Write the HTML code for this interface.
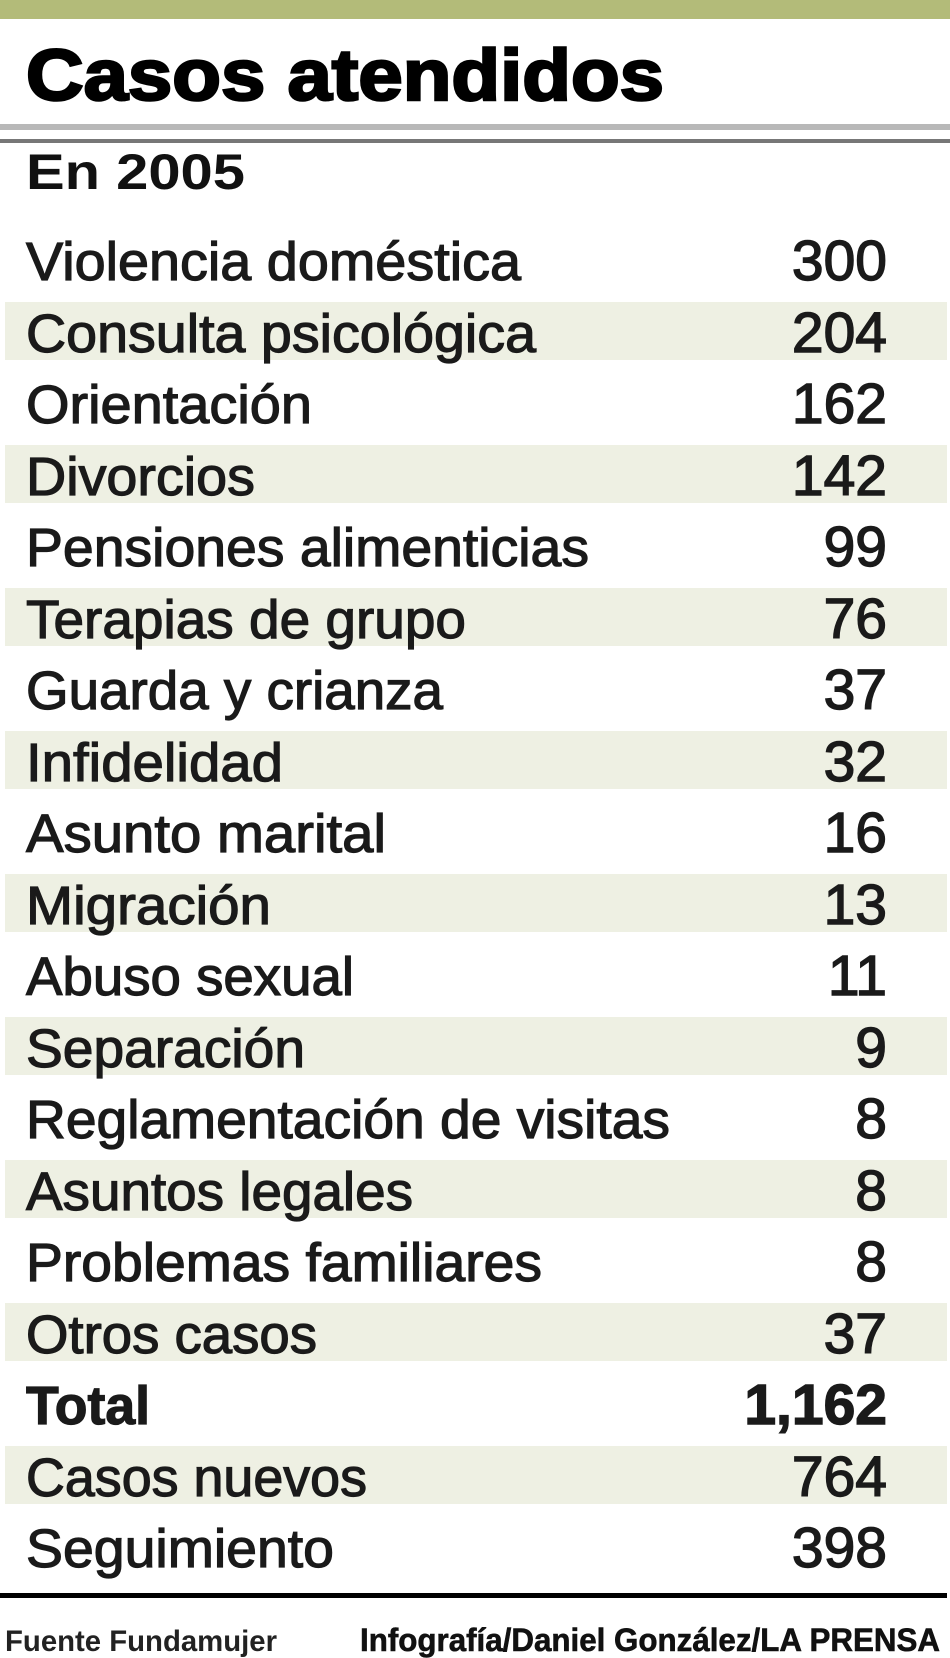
<!DOCTYPE html>
<html><head><meta charset="utf-8"><style>html,body{margin:0;padding:0;background:#fff}svg{display:block}</style></head>
<body>
<svg width="950" height="1658" viewBox="0 0 950 1658" xmlns="http://www.w3.org/2000/svg" font-family="Liberation Sans, sans-serif">
<rect width="950" height="1658" fill="#fff"/>
<rect x="0" y="0" width="950" height="19" fill="#b3bb79"/>
<text x="26" y="100" font-size="72" font-weight="bold" fill="#000" stroke="#000" stroke-width="2.5" textLength="638" lengthAdjust="spacingAndGlyphs">Casos atendidos</text>
<rect x="0" y="124" width="950" height="6" fill="#b8b8b8"/>
<rect x="0" y="139" width="950" height="4" fill="#777"/>
<text x="26" y="189" font-size="50" font-weight="bold" fill="#111" textLength="219" lengthAdjust="spacingAndGlyphs">En 2005</text>
<g fill="#eef0e3">
<rect x="5" y="302" width="942" height="58"/>
<rect x="5" y="445" width="942" height="58"/>
<rect x="5" y="588" width="942" height="58"/>
<rect x="5" y="731" width="942" height="58"/>
<rect x="5" y="874" width="942" height="58"/>
<rect x="5" y="1017" width="942" height="58"/>
<rect x="5" y="1160" width="942" height="58"/>
<rect x="5" y="1303" width="942" height="58"/>
<rect x="5" y="1446" width="942" height="58"/>
</g>
<g font-size="54" fill="#1a1a1a" stroke="#1a1a1a" stroke-width="1.2">
<text x="26" y="280" textLength="495" lengthAdjust="spacingAndGlyphs">Violencia doméstica</text>
<text x="26" y="352" textLength="510" lengthAdjust="spacingAndGlyphs">Consulta psicológica</text>
<text x="26" y="423" textLength="286" lengthAdjust="spacingAndGlyphs">Orientación</text>
<text x="26" y="495" textLength="229" lengthAdjust="spacingAndGlyphs">Divorcios</text>
<text x="26" y="566" textLength="563" lengthAdjust="spacingAndGlyphs">Pensiones alimenticias</text>
<text x="26" y="638" textLength="440" lengthAdjust="spacingAndGlyphs">Terapias de grupo</text>
<text x="26" y="709" textLength="417" lengthAdjust="spacingAndGlyphs">Guarda y crianza</text>
<text x="26" y="781" textLength="257" lengthAdjust="spacingAndGlyphs">Infidelidad</text>
<text x="26" y="852" textLength="360" lengthAdjust="spacingAndGlyphs">Asunto marital</text>
<text x="26" y="924" textLength="245" lengthAdjust="spacingAndGlyphs">Migración</text>
<text x="26" y="995" textLength="328" lengthAdjust="spacingAndGlyphs">Abuso sexual</text>
<text x="26" y="1067" textLength="279" lengthAdjust="spacingAndGlyphs">Separación</text>
<text x="26" y="1138" textLength="644" lengthAdjust="spacingAndGlyphs">Reglamentación de visitas</text>
<text x="26" y="1210" textLength="387" lengthAdjust="spacingAndGlyphs">Asuntos legales</text>
<text x="26" y="1281" textLength="516" lengthAdjust="spacingAndGlyphs">Problemas familiares</text>
<text x="26" y="1353" textLength="291" lengthAdjust="spacingAndGlyphs">Otros casos</text>
<text x="26" y="1424" textLength="124" lengthAdjust="spacingAndGlyphs" font-weight="bold">Total</text>
<text x="26" y="1496" textLength="341" lengthAdjust="spacingAndGlyphs">Casos nuevos</text>
<text x="26" y="1567" textLength="308" lengthAdjust="spacingAndGlyphs">Seguimiento</text>
</g>
<g font-size="57" fill="#1a1a1a" stroke="#1a1a1a" stroke-width="1.4" text-anchor="end">
<text x="887" y="280">300</text>
<text x="887" y="352">204</text>
<text x="887" y="423">162</text>
<text x="887" y="495">142</text>
<text x="887" y="566">99</text>
<text x="887" y="638">76</text>
<text x="887" y="709">37</text>
<text x="887" y="781">32</text>
<text x="887" y="852">16</text>
<text x="887" y="924">13</text>
<text x="887" y="995">11</text>
<text x="887" y="1067">9</text>
<text x="887" y="1138">8</text>
<text x="887" y="1210">8</text>
<text x="887" y="1281">8</text>
<text x="887" y="1353">37</text>
<text x="887" y="1424" font-weight="bold">1,162</text>
<text x="887" y="1496">764</text>
<text x="887" y="1567">398</text>
</g>
<rect x="0" y="1593" width="947" height="5" fill="#000"/>
<text x="5" y="1651" font-size="30" font-weight="bold" fill="#222" textLength="272" lengthAdjust="spacingAndGlyphs">Fuente Fundamujer</text>
<text x="360" y="1651" font-size="32" font-weight="bold" fill="#111" stroke="#111" stroke-width="0.6" textLength="580" lengthAdjust="spacingAndGlyphs">Infografía/Daniel González/LA PRENSA</text>
</svg>
</body></html>
